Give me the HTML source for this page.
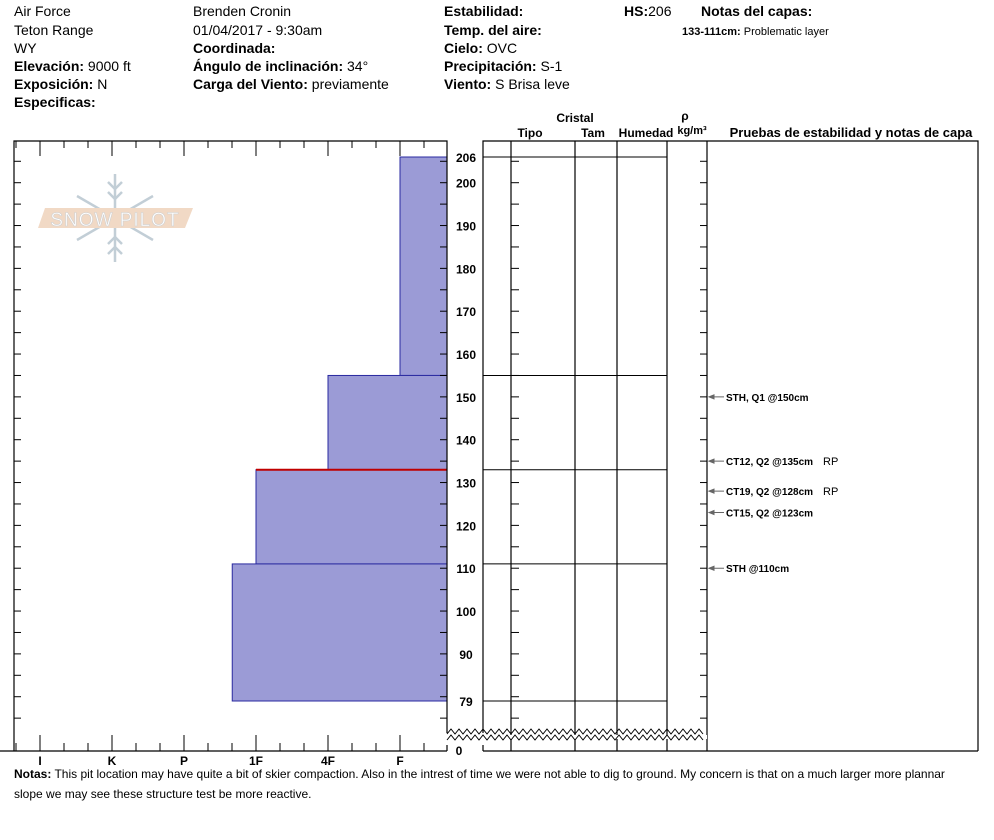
<!DOCTYPE html>
<html><head><meta charset="utf-8"><style>
body{margin:0;background:#fff;}
svg{display:block;font-family:"Liberation Sans",Arial,sans-serif;}
.h{font-size:14px;fill:#000}
.b{font-weight:bold}
.ax{font-size:12px;font-weight:bold}
</style></head><body>
<svg id="c" width="994" height="840" viewBox="0 0 994 840">
<g>
<text class="h" x="14" y="16">Air Force</text>
<text class="h" x="14" y="35">Teton Range</text>
<text class="h" x="14" y="53">WY</text>
<text class="h" x="14" y="71"><tspan class="b">Elevación:</tspan> 9000 ft</text>
<text class="h" x="14" y="89"><tspan class="b">Exposición:</tspan> N</text>
<text class="h b" x="14" y="107">Especificas:</text>
<text class="h" x="193" y="16">Brenden Cronin</text>
<text class="h" x="193" y="35">01/04/2017 - 9:30am</text>
<text class="h b" x="193" y="53">Coordinada:</text>
<text class="h" x="193" y="71"><tspan class="b">Ángulo de inclinación:</tspan> 34°</text>
<text class="h" x="193" y="89"><tspan class="b">Carga del Viento:</tspan> previamente</text>
<text class="h b" x="444" y="16">Estabilidad:</text>
<text class="h b" x="444" y="35">Temp. del aire:</text>
<text class="h" x="444" y="53"><tspan class="b">Cielo:</tspan> OVC</text>
<text class="h" x="444" y="71"><tspan class="b">Precipitación:</tspan> S-1</text>
<text class="h" x="444" y="89"><tspan class="b">Viento:</tspan>   S Brisa leve</text>
<text class="h" x="624" y="16"><tspan class="b">HS:</tspan>206</text>
<text class="h b" x="701" y="16">Notas del capas:</text>
<text x="682" y="35" font-size="11"><tspan font-weight="bold">133-111cm:</tspan> Problematic layer</text>
</g>
<g font-size="12" font-weight="bold">
<text x="575" y="122" text-anchor="middle">Cristal</text>
<text x="530" y="137" text-anchor="middle">Tipo</text>
<text x="593" y="137" text-anchor="middle">Tam</text>
<text x="646" y="137" text-anchor="middle">Humedad</text>
<text x="685" y="120" text-anchor="middle">ρ</text>
<text x="692" y="134" text-anchor="middle" font-size="11">kg/m³</text>
<text x="851" y="137" text-anchor="middle" font-size="13">Pruebas de estabilidad y notas de capa</text>
</g>
<g opacity="0.85">
<g stroke="#b8c6d0" stroke-width="2.5" fill="none" transform="translate(115,218)">
<line x1="0" y1="-44" x2="0" y2="44"/><line x1="-38" y1="-22" x2="38" y2="22"/><line x1="-38" y1="22" x2="38" y2="-22"/>
<path d="M-7,-36 L0,-29 L7,-36 M-7,-26 L0,-19 L7,-26 M-7,36 L0,29 L7,36 M-7,26 L0,19 L7,26"/>
</g>
<polygon points="45,208 193,208 185,228 38,228" fill="#efd3bc"/>
<text x="115" y="226" text-anchor="middle" font-size="19" fill="#fff" stroke="#c9c9c9" stroke-width="0.6" letter-spacing="1">SNOW PILOT</text>
</g>
<g id="plot"></g>
<g id="tbl"></g>
<g>
<text x="14" y="778" font-size="12"><tspan font-weight="bold">Notas:</tspan> <tspan font-size="12">This pit location may have quite a bit of skier compaction. Also in the intrest of time we were not able to dig to ground. My concern is that on a much larger more plannar</tspan></text>
<text x="14" y="798" font-size="12">slope we may see these structure test be more reactive.</text>
</g>
</svg>
<script>
const layerTops=[206,155,133,111];
const layerBottoms=[155,133,111,79];
const layerHardness=[6,5,4,3.67];
const hardLabels=['I','K','P','1F','4F','F'];
const depthTicks=[200,190,180,170,160,150,140,130,120,110,100,90];
const testLabels=['STH, Q1 @150cm','CT12, Q2 @135cm  RP','CT19, Q2 @128cm  RP','CT15, Q2 @123cm','STH @110cm'];
const testDepths=[150,135,128,123,110];
const critDepth=133;
const NS='http://www.w3.org/2000/svg';
const y=d=>157+(206-d)*(544/127);
const x=h=>40+(h-1)*72;
function mk(p,t,a){const e=document.createElementNS(NS,t);for(const k in a)e.setAttribute(k,a[k]);p.appendChild(e);return e;}
const P=document.getElementById('plot'),T=document.getElementById('tbl');
layerTops.forEach((t,i)=>{const r=mk(P,'rect',{x:x(layerHardness[i]),y:y(t),width:447-x(layerHardness[i]),height:y(layerBottoms[i])-y(t),fill:'#9b9bd6',stroke:'#2a2aa0','stroke-width':1});

});
const cr=mk(P,'line',{x1:256,x2:447,y1:y(critDepth),y2:y(critDepth),stroke:'#c00000','stroke-width':2});


mk(P,'path',{d:'M14,751 V141 H447 V733 M447,745 V751 M0,751 H447 M483,751 H978 M483,745 V751 M483,733 V141 H978 V751 M511,141 V751 M575,141 V751 M617,141 V751 M667,141 V751 M707,141 V751',stroke:'#000',fill:'none','stroke-width':1.2});
for(let k=0;k<19;k++){const xx=16+24*k;if(xx>447)break;const long=(k%3==1);
mk(P,'line',{x1:xx,x2:xx,y1:141,y2:long?156:148,stroke:'#000'});
mk(P,'line',{x1:xx,x2:xx,y1:751,y2:long?735:743,stroke:'#000'});}
hardLabels.forEach((l,i)=>{const t=mk(P,'text',{x:x(i+1),y:765,'text-anchor':'middle',class:'ax'});t.textContent=l;

});
for(let d=205;d>=75;d-=5){const yy=y(d);
mk(P,'line',{x1:14,x2:21,y1:yy,y2:yy,stroke:'#000'});
mk(P,'line',{x1:440,x2:447,y1:yy,y2:yy,stroke:'#000'});
mk(T,'line',{x1:511,x2:519,y1:yy,y2:yy,stroke:'#000'});
mk(T,'line',{x1:700,x2:707,y1:yy,y2:yy,stroke:'#000'});}
depthTicks.concat([206,79]).forEach(d=>{const t=mk(P,'text',{x:466,y:y(d)+5,'text-anchor':'middle',class:'ax'});t.textContent=d;

});
const z=mk(P,'text',{x:459,y:755,'text-anchor':'middle',class:'ax'});z.textContent='0';
layerTops.concat([79]).forEach(d=>{mk(T,'line',{x1:483,x2:667,y1:y(d),y2:y(d),stroke:'#000'});});
let zz1='M447,734',zz2='M447,740';for(let xx=447;xx<703;xx+=8){zz1+=' L'+(xx+4)+',729 L'+(xx+8)+',734';zz2+=' L'+(xx+4)+',735 L'+(xx+8)+',740';}
mk(T,'rect',{x:447,y:735,width:260,height:4,fill:'#fff'});
mk(T,'path',{d:zz1,stroke:'#000',fill:'none'});mk(T,'path',{d:zz2,stroke:'#000',fill:'none'});
testDepths.forEach((d,i)=>{const yy=y(d);
mk(T,'path',{d:`M709,${yy} L724,${yy} M709,${yy} l5,-2 v4 z`,stroke:'#666',fill:'#666'});
const t=mk(T,'text',{x:726,y:yy+4,'font-size':10,'font-weight':'bold'});t.textContent=testLabels[i].replace(/\s+RP$/,'');


if(/RP$/.test(testLabels[i])){const r=mk(T,'text',{x:823,y:yy+4,'font-size':11});r.textContent='RP';}});
</script>
</body></html>
